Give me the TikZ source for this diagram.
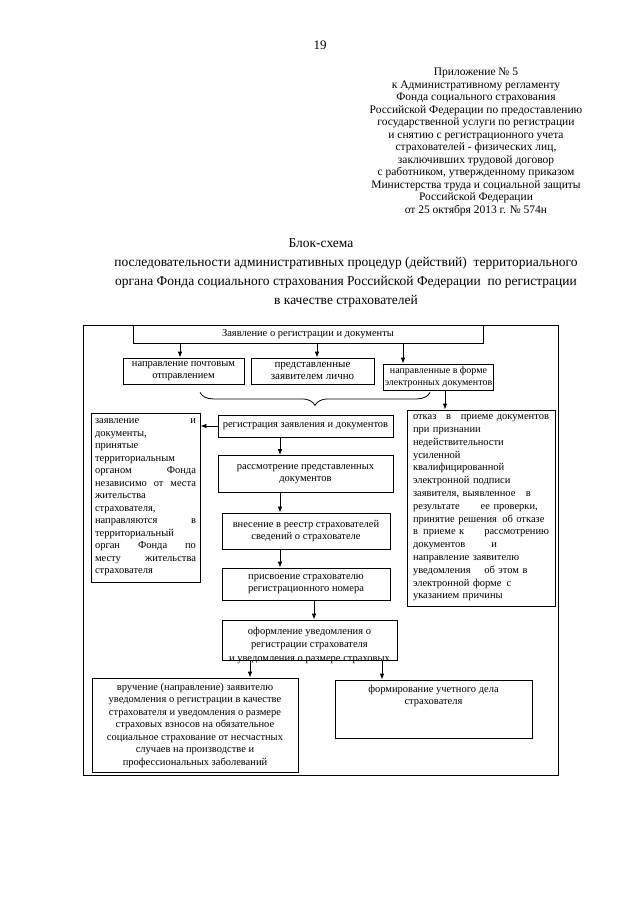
\documentclass[tikz,border=0pt]{standalone}
\usepackage{fontspec}
\setmainfont{Liberation Serif}
\usetikzlibrary{arrows.meta,decorations.pathreplacing}
\tikzset{
  boxst/.style={draw, line width=0.8pt, inner sep=1pt, align=center,
    font=\fontsize{10.5}{12.5}\selectfont},
  txt/.style={inner sep=0pt, align=center, font=\fontsize{10.5}{12.5}\selectfont},
  arr/.style={-{Latex[length=6pt,width=4.5pt]}, line width=0.8pt},
  hdr/.style={inner sep=0pt, align=center, font=\fontsize{11.5}{12.5}\selectfont},
  ttl/.style={inner sep=0pt, align=center, font=\fontsize{13.5}{19}\selectfont},
}
\begin{document}
\begin{tikzpicture}[x=1pt,y=-1pt]
\useasboundingbox (0,0) rectangle (640,905);
\fill[white] (0,0) rectangle (640,905);

\node[inner sep=0pt, font=\fontsize{13}{15}\selectfont] (pagenum) at (320,45) {19};

\node[hdr, anchor=north] (appendix) at (476,68) {Приложение № 5\\
к Административному регламенту\\
Фонда социального страхования\\
Российской Федерации по предоставлению\\
государственной услуги по регистрации\\
и снятию с регистрационного учета\\
страхователей - физических лиц,\\
заключивших трудовой договор\\
с работником, утвержденному приказом\\
Министерства труда и социальной защиты\\
Российской Федерации\\
от 25 октября 2013 г. № 574н};

\node[ttl] (title1) at (321,243) {Блок-схема};
\node[ttl, anchor=north] (title2) at (346,257) {последовательности административных процедур (действий)\ \ территориального\\
органа Фонда социального страхования Российской Федерации\ \ по регистрации\\
в качестве страхователей};

% outer frame
\node[draw, line width=0.9pt, minimum width=475, minimum height=450, inner sep=0pt] (frame) at (320.5,550) {};

\node[boxst, minimum width=350, minimum height=18] (zayav) at (308,334) {Заявление о регистрации и документы};
\node[boxst, minimum width=121, minimum height=26] (b1) at (183.5,371) {направление почтовым\\отправлением};
\node[boxst, minimum width=123, minimum height=26, font=\fontsize{11}{12.5}\selectfont] (b2) at (312.5,371) {представленные\\заявителем лично};
\node[boxst, minimum width=105, minimum height=26, font=\fontsize{10}{12.5}\selectfont] (b3) at (438.5,377) {направленные в форме\\электронных документов};

\draw[decorate, decoration={brace, mirror, amplitude=13pt}, line width=0.8pt] (b1.south -| 200,0) ++(0,8) coordinate (brL) (brL) -- (brL -| 430,0) coordinate (brR);

\node[boxst, minimum width=175, minimum height=22] (reg) at (305.5,426) {регистрация заявления и документов};
\node[boxst, minimum width=175, minimum height=37] (ras) at (305.5,474) {рассмотрение представленных\\документов};
\node[boxst, minimum width=168, minimum height=36] (vnes) at (306,531) {внесение в реестр страхователей\\сведений о страхователе};
\node[boxst, minimum width=168, minimum height=32] (pris) at (306,584) {присвоение страхователю\\регистрационного номера};
\node[draw, line width=0.8pt, minimum width=175, minimum height=40, inner sep=0pt] (oform) at (309.5,640) {};
\node[txt, anchor=north, font=\fontsize{10.5}{13.5}\selectfont] (oformtxt) at ([yshift=-7]oform.north) {оформление уведомления о\\регистрации страхователя\\и уведомления о размере страховых};

\node[boxst, minimum width=109, minimum height=169, text width=101, align=left, inner sep=0pt] (lbox) at (145.5,497.5) {заявление\hfill и\\
документы,\\
принятые\\
территориальным\\
органом\hfill Фонда\\
независимо\hfill от\hfill места\\
жительства\\
страхователя,\\
направляются\hfill в\\
территориальный\\
орган\hfill Фонда\hfill по\\
месту\hfill жительства\\
страхователя};

\node[boxst, minimum width=148, minimum height=196, text width=136, align=left, inner sep=0pt, font=\fontsize{10.5}{12.8}\selectfont] (rbox) at (481,508) {отказ\hfill в\hfill приеме документов\\
при признании\\
недействительности\\
усиленной\\
квалифицированной\\
электронной подписи\\
заявителя, выявленное\quad в\\
результате\hspace{2em}ее проверки,\\
принятие решения\enspace об отказе\\
в\enspace приеме к\hfill рассмотрению\\
документов\hspace{2.5em}и\\
направление заявителю\\
уведомления\hspace{1.3em}об этом в\\
электронной форме\enspace с\\
указанием причины};

\node[boxst, minimum width=206, minimum height=94] (vruch) at (195,725) {вручение (направление) заявителю\\
уведомления о регистрации в качестве\\
страхователя и уведомления о размере\\
страховых взносов на обязательное\\
социальное страхование от несчастных\\
случаев на производстве и\\
профессиональных заболеваний};
\node[draw, line width=0.8pt, minimum width=197, minimum height=58, inner sep=0pt] (form) at (433.5,709) {};
\node[txt, anchor=north] (formtxt) at ([yshift=-5]form.north) {формирование учетного дела\\страхователя};

% connectors
\draw[arr] (zayav.south -| 180,0) -- (b1.north -| 180,0);
\draw[arr] (zayav.south -| 317,0) -- (b2.north -| 317,0);
\draw[arr] (zayav.south -| 403,0) -- (b3.north -| 403,0);
\draw[arr] (b3.south -| 445,0) -- (rbox.north -| 445,0);
\draw[arr] (reg.west) -- (reg.west -| lbox.east);
\draw[arr] (reg.south -| 280,0) -- (ras.north -| 280,0);
\draw[arr] (ras.south -| 280,0) -- (vnes.north -| 280,0);
\draw[arr] (vnes.south -| 280,0) -- (pris.north -| 280,0);
\draw[arr] (pris.south -| 314,0) -- (oform.north -| 314,0);
\draw[arr] (oform.south -| 250,0) -- (vruch.north -| 250,0);
\draw[arr] (oform.south -| 382,0) -- (form.north -| 382,0);
\end{tikzpicture}
\end{document}
